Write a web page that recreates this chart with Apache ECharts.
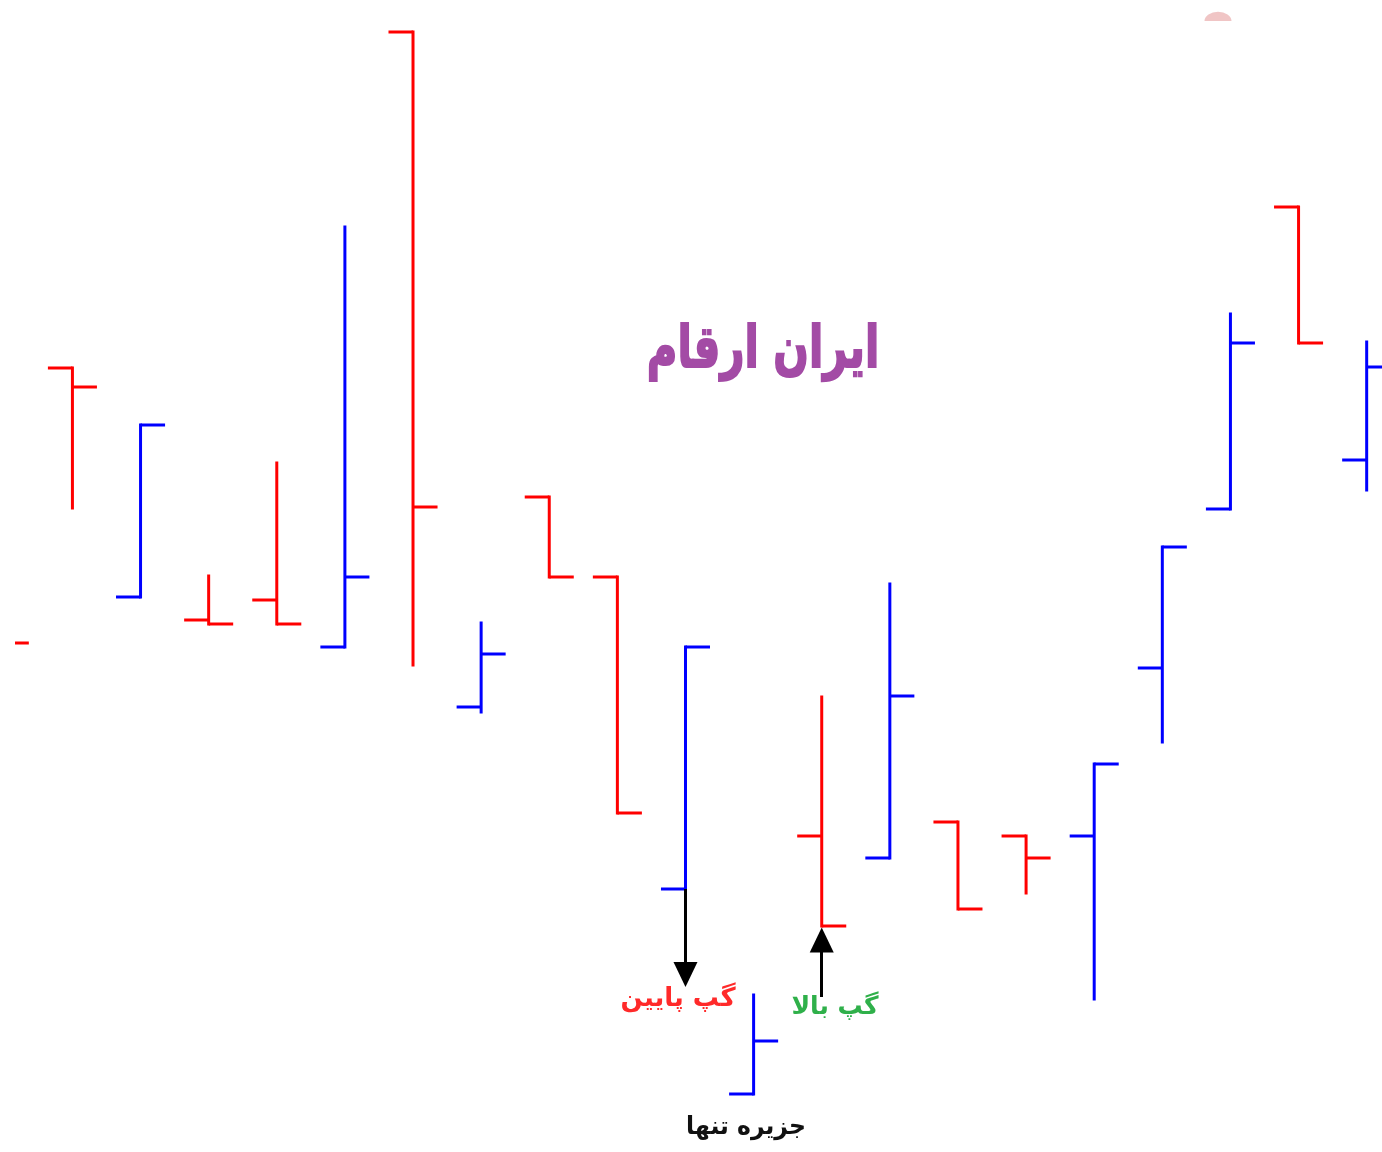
<!DOCTYPE html>
<html>
<head>
<meta charset="utf-8">
<script src="https://cdn.jsdelivr.net/npm/echarts@6/dist/echarts.min.js"></script>
<style>
html,body{margin:0;padding:0;background:#fff;}
#chart{width:1382px;height:1152px;}
</style>
</head>
<body>
<div id="chart"></div>
<script>
// Bar index (time)
const barIndex = [0,1,2,3,4,5,6,7,8,9,10,11,12,13,14,15,16,17,18,19,20];
// OHLC values
const openVals  = [101.8,156.8,111.0,106.4,110.4,101.0,224.0, 89.0,131.0,115.0, 52.6,11.6,63.2,58.8,66.0,63.2,63.2, 96.8,128.6,189.0,138.4];
const closeVals = [101.8,153.0,145.4,105.6,105.6,115.0,129.0, 99.6,115.0, 67.8,101.0,22.2,45.2,91.2,48.6,58.8,77.6,121.0,161.8,161.8,157.0];
const lowVals   = [101.8,128.8,111.0,105.6,105.6,101.0, 97.4, 88.0,115.0, 67.8, 52.6,11.6,45.2,58.8,48.6,51.8,30.6, 82.0,128.6,161.8,132.4];
const highVals  = [101.8,156.8,145.4,115.2,137.8,185.0,224.0,105.8,131.0,115.0,101.0,31.4,91.0,113.6,66.0,63.2,77.6,121.0,167.6,189.0,162.0];

const titleText = 'ایران ارقام';
const gapDownText = 'گپ پایین';
const gapUpText = 'گپ بالا';
const islandText = 'جزیره تنها';

const RED = '#ff0000', BLUE = '#0000ff';
const TICK = 0.36;

const data = barIndex.map((x,i)=>[x, openVals[i], closeVals[i], lowVals[i], highVals[i]]);

const chart = echarts.init(document.getElementById('chart'), null, {renderer:'canvas'});
chart.setOption({
  backgroundColor:'#fff',
  animation:false,
  grid:{left:15,right:0,top:0,bottom:0},
  xAxis:{type:'value', min:0.157, max:20.225, show:false},
  yAxis:{type:'value', min:0, max:230.4, show:false},
  graphic:[
    {type:'text', x:763, y:352, scaleX:0.72, originX:0, originY:0,
      style:{text:titleText, fill:'#a34ba5', stroke:'#a34ba5', lineWidth:2, font:'bold 58px "DejaVu Sans"', textAlign:'center', textVerticalAlign:'middle'}},
    {type:'text', x:678, y:999, style:{text:gapDownText, fill:'#ff2a2a', font:'bold 26px "DejaVu Sans"', textAlign:'center', textVerticalAlign:'middle'}},
    {type:'text', x:835, y:1007, style:{text:gapUpText, fill:'#2fb04a', font:'bold 25px "DejaVu Sans"', textAlign:'center', textVerticalAlign:'middle'}},
    {type:'text', x:746, y:1127, scaleX:0.94, style:{text:islandText, fill:'#111', font:'bold 25px "DejaVu Sans"', textAlign:'center', textVerticalAlign:'middle'}},
    {type:'group', x:1218, y:21, scaleY:0.68, children:[
      {type:'sector', shape:{cx:0, cy:0, r:13.5, r0:0, startAngle:Math.PI, endAngle:2*Math.PI}, style:{fill:'rgba(228,150,150,0.55)'}}
    ]}
  ],
  series:[{
    type:'custom',
    clip:true,
    data:data,
    encode:{x:0, y:[1,2,3,4]},
    renderItem:function(params, api){
      const x = api.value(0);
      const o = api.value(1), c = api.value(2), l = api.value(3), h = api.value(4);
      const pO = api.coord([x,o]), pC = api.coord([x,c]), pL = api.coord([x,l]), pH = api.coord([x,h]);
      const w = api.size([TICK,0])[0];
      const color = c > o ? BLUE : RED;
      const st = {stroke:color, lineWidth:3, lineCap:'butt'};
      return {type:'group', children:[
        {type:'line', shape:{x1:pH[0], y1:pH[1]-1.5, x2:pL[0], y2:pL[1]+1.5}, style:st},
        {type:'line', shape:{x1:pO[0]-w, y1:pO[1], x2:pO[0], y2:pO[1]}, style:st},
        {type:'line', shape:{x1:pC[0], y1:pC[1], x2:pC[0]+w, y2:pC[1]}, style:st}
      ]};
    },
    markLine:{
      silent:true,
      animation:false,
      symbol:['none','triangle'],
      symbolSize:[24,25],
      label:{show:false},
      lineStyle:{color:'#000', width:3, type:'solid'},
      data:[
        [{coord:[10, 52.6]},{coord:[10, 35.5]}],
        [{coord:[12, 31.0]},{coord:[12, 42.4]}]
      ]
    }
  }]
});
</script>
</body>
</html>
